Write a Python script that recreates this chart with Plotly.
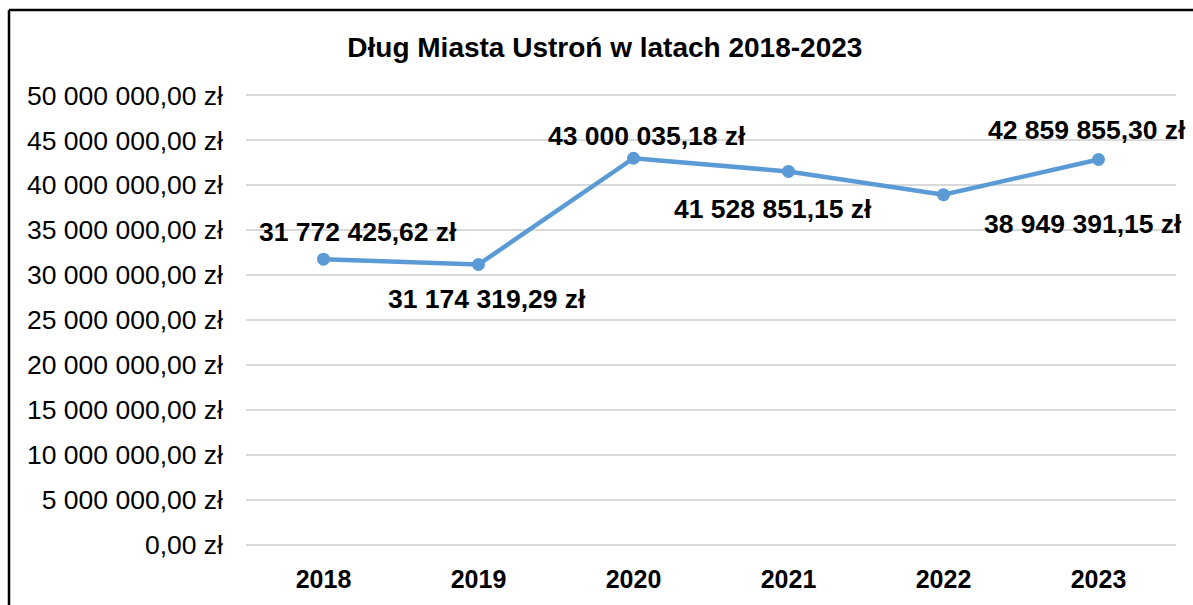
import plotly.graph_objects as go

years = ["2018", "2019", "2020", "2021", "2022", "2023"]
debt = [31772425.62, 31174319.29, 43000035.18, 41528851.15, 38949391.15, 42859855.30]
y_ticks = list(range(0, 50000001, 5000000))

# label offsets (px) relative to each point, as placed in the original chart
label_dx = [34, 8, 13, -16, 139, -12]
label_dy = [27, -34, 22, -38, -29, 30]

FONT = "Liberation Sans, Arial, sans-serif"
LINE = "#5B9BD5"


def pln(v):
    s = f"{v:,.2f}".replace(",", " ").replace(".", ",")
    return s + " zł"


fig = go.Figure()
fig.add_trace(go.Scatter(
    x=years, y=debt, mode="lines+markers",
    line=dict(color=LINE, width=4.5),
    marker=dict(color=LINE, size=13),
    hoverinfo="skip", showlegend=False,
))

# annotations use the category index so "2018" isn't read as a number
for i, (v, dx, dy) in enumerate(zip(debt, label_dx, label_dy)):
    fig.add_annotation(x=i, y=v, text=f"<b>{pln(v)}</b>", showarrow=False,
                       xshift=dx, yshift=dy, font=dict(size=26.5, color="black", family=FONT))

# pad the y range a little so the 0 and 50M gridlines aren't dropped at the edges
pad = 150000
fig.update_layout(
    width=1193, height=605,
    margin=dict(l=246, r=17, t=93.6, b=53.6),
    paper_bgcolor="white", plot_bgcolor="white",
    font=dict(family=FONT, color="black", size=25),
    title=dict(text="<b>Dług Miasta Ustroń w latach 2018-2023</b>", x=0.507, xanchor="center",
               y=0.922, yanchor="middle", font=dict(size=28, color="black", family=FONT)),
)
fig.update_xaxes(showgrid=False, showline=False, ticks="", type="category",
                 range=[-0.5, 5.5], tickfont=dict(size=25, family=FONT, weight="bold"),
                 ticklabelstandoff=16, fixedrange=True)
fig.update_yaxes(range=[-pad, 50000000 + pad], tickvals=y_ticks, ticktext=[pln(t) for t in y_ticks],
                 showgrid=True, gridcolor="#D9D9D9", gridwidth=1.5, zeroline=False,
                 showline=False, ticks="", ticklabelstandoff=22,
                 tickfont=dict(size=26.5, family=FONT), fixedrange=True)

# outer chart frame (only top and left edges visible in the crop)
fig.add_shape(type="line", xref="paper", yref="paper", xsizemode="pixel", ysizemode="pixel",
              xanchor=0, yanchor=1, x0=-237, x1=960, y0=84, y1=84,
              line=dict(color="black", width=2.5))
fig.add_shape(type="line", xref="paper", yref="paper", xsizemode="pixel", ysizemode="pixel",
              xanchor=0, yanchor=1, x0=-237, x1=-237, y0=84, y1=-520,
              line=dict(color="black", width=2.5))

fig.write_html("out.html", config={"displayModeBar": False},
               post_script="document.body.style.margin='0';")
